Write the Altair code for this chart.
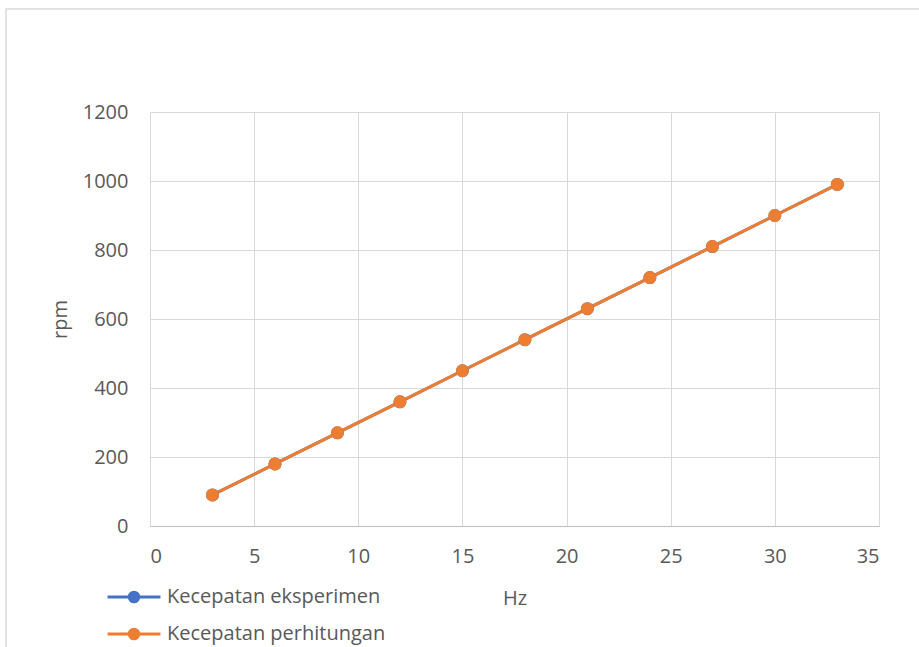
import altair as alt
import pandas as pd

# Frequency (Hz) and motor speed (rpm) for the two series
hz = [3, 6, 9, 12, 15, 18, 21, 24, 27, 30, 33]
rpm_eksperimen = [90, 180, 270, 360, 450, 540, 630, 720, 810, 900, 990]
rpm_perhitungan = [90, 180, 270, 360, 450, 540, 630, 720, 810, 900, 990]
series_names = ["Kecepatan eksperimen", "Kecepatan perhitungan"]
series_colors = ["#4472C4", "#ED7D31"]
x_ticks = [0, 5, 10, 15, 20, 25, 30, 35]
y_ticks = [0, 200, 400, 600, 800, 1000, 1200]

rows = []
for name, values in zip(series_names, [rpm_eksperimen, rpm_perhitungan]):
    for h, r in zip(hz, values):
        rows.append({"hz": h, "rpm": r, "seri": name})
df = pd.DataFrame(rows)

FONT = "Open Sans"
TEXT = "#595959"
GRID = "#d9d9d9"

# legend symbol: a line segment with a filled dot in the middle
# (the dot is built from concentric rings so it stays solid with stroke only)
rings = ""
for r in [0.9, 0.5, 0.2]:
    rings += f"M{r},0A{r},{r},0,1,1,-{r},0A{r},{r},0,1,1,{r},0"
legend_symbol = "M-5,0L5,0" + rings

color = alt.Color(
    "seri:N",
    scale=alt.Scale(domain=series_names, range=series_colors),
    legend=alt.Legend(
        title=None,
        orient="none",
        legendX=-26,
        legendY=475,
        direction="vertical",
        symbolType=legend_symbol,
        symbolSize=112,
        symbolStrokeWidth=3,
        symbolFillColor="transparent",
        labelFont=FONT,
        labelFontSize=20,
        labelColor=TEXT,
        labelOffset=23,
        labelLimit=0,
        rowPadding=15,
    ),
)

x = alt.X(
    "hz:Q",
    title="Hz",
    scale=alt.Scale(domain=[0, 35], nice=False),
    axis=alt.Axis(
        values=x_ticks,
        ticks=False,
        domain=True,
        domainColor="#bfbfbf",
        gridColor=GRID,
        labelFont=FONT,
        labelFontSize=20,
        labelColor=TEXT,
        labelPadding=20,
        titleFont=FONT,
        titleFontSize=20,
        titleFontWeight="normal",
        titleColor=TEXT,
        titlePadding=22,
    ),
)
y = alt.Y(
    "rpm:Q",
    title="rpm",
    scale=alt.Scale(domain=[0, 1200], nice=False),
    axis=alt.Axis(
        values=y_ticks,
        format="d",
        ticks=False,
        domain=False,
        gridColor=GRID,
        labelFont=FONT,
        labelFontSize=20,
        labelColor=TEXT,
        labelPadding=22,
        titleFont=FONT,
        titleFontSize=20,
        titleFontWeight="normal",
        titleColor=TEXT,
        titlePadding=12,
    ),
)

base = alt.Chart(df).encode(x=x, y=y, color=color, order=alt.Order("hz:Q"))
lines = base.mark_line(strokeWidth=3)
dots = base.mark_point(filled=True, size=170, opacity=1)

# light frame around the whole chart area
frame = alt.Chart(pd.DataFrame({"k": [0]})).mark_rect(
    fill=None, stroke=GRID, strokeWidth=1.5, clip=False
).encode(
    x=alt.value(-144),
    x2=alt.value(800),
    y=alt.value(-103),
    y2=alt.value(560),
)

chart = alt.layer(frame, lines, dots).properties(
    width=729,
    height=414,
    autosize="none",
    padding={"left": 150, "top": 112, "right": 40, "bottom": 121},
).configure_view(stroke=None).configure(background="white")

chart.save("out.html", embed_options={"renderer": "svg", "actions": False})
